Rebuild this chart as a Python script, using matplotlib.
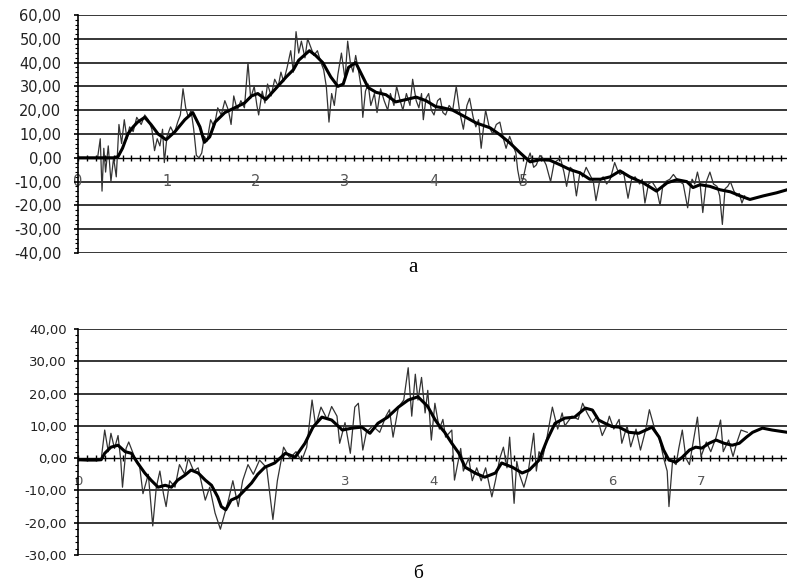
import numpy as np
from matplotlib import pyplot as plt
from matplotlib.ticker import FuncFormatter, MultipleLocator

# ---- panel a: raw signal (thin) and smoothed signal (thick) ----
x_top_raw = [0.00, 0.10, 0.22, 0.25, 0.27, 0.29, 0.31, 0.34, 0.37, 0.40,
             0.43, 0.46, 0.49, 0.52, 0.55, 0.58, 0.62, 0.66, 0.71, 0.75,
             0.79, 0.83, 0.86, 0.89, 0.92, 0.95, 0.97, 1.00, 1.04, 1.08,
             1.12, 1.15, 1.18, 1.21, 1.24, 1.27, 1.30, 1.33, 1.36, 1.39,
             1.42, 1.45, 1.49, 1.53, 1.57, 1.61, 1.65, 1.69, 1.72, 1.75,
             1.79, 1.83, 1.87, 1.91, 1.94, 1.98, 2.01, 2.03, 2.07, 2.10,
             2.13, 2.17, 2.21, 2.25, 2.28, 2.31, 2.35, 2.39, 2.42, 2.45,
             2.48, 2.51, 2.55, 2.58, 2.62, 2.65, 2.69, 2.73, 2.76, 2.79,
             2.82, 2.85, 2.88, 2.92, 2.96, 3.00, 3.03, 3.06, 3.09, 3.12,
             3.15, 3.18, 3.20, 3.23, 3.26, 3.29, 3.33, 3.36, 3.40, 3.44,
             3.48, 3.51, 3.55, 3.58, 3.62, 3.65, 3.69, 3.73, 3.76, 3.80,
             3.83, 3.86, 3.88, 3.91, 3.94, 3.97, 4.00, 4.04, 4.07, 4.10,
             4.13, 4.17, 4.21, 4.25, 4.29, 4.33, 4.37, 4.40, 4.44, 4.47,
             4.50, 4.53, 4.56, 4.58, 4.62, 4.66, 4.70, 4.74, 4.78, 4.81,
             4.85, 4.89, 4.92, 4.94, 4.97, 5.00, 5.04, 5.08, 5.12, 5.15,
             5.19, 5.22, 5.26, 5.31, 5.35, 5.39, 5.42, 5.46, 5.49, 5.53,
             5.56, 5.60, 5.64, 5.67, 5.71, 5.75, 5.79, 5.82, 5.86, 5.90,
             5.94, 5.98, 6.03, 6.06, 6.09, 6.13, 6.18, 6.22, 6.26, 6.31,
             6.34, 6.37, 6.41, 6.45, 6.50, 6.54, 6.57, 6.60, 6.65, 6.69,
             6.73, 6.76, 6.80, 6.85, 6.88, 6.90, 6.93, 6.96, 6.99, 7.02,
             7.06, 7.10, 7.14, 7.18, 7.21, 7.24, 7.27, 7.30, 7.33, 7.37,
             7.40, 7.43, 7.46, 7.49]
y_top_raw = [0, 0, 0, 8, -14, 4, -6, 5, -10, 0,
             -8, 14, 6, 16, 8, 13, 11, 17, 14, 18,
             16, 12, 3, 8, 5, 12, -2, 9, 13, 10,
             15, 18, 29, 21, 17, 20, 12, 1, 0, 2,
             9, 7, 16, 13, 21, 18, 24, 20, 14, 26,
             20, 24, 21, 40, 25, 30, 22, 18, 28, 23,
             31, 26, 33, 30, 36, 32, 38, 45, 36, 53,
             44, 49, 42, 50, 46, 43, 45, 40, 37, 30,
             15, 27, 22, 35, 44, 33, 49, 40, 36, 43,
             37, 30, 17, 28, 31, 22, 27, 19, 29, 24,
             20, 27, 22, 30, 24, 20, 27, 22, 33, 24,
             21, 27, 16, 25, 27, 20, 18, 24, 25, 19,
             18, 22, 20, 30, 19, 12, 22, 25, 17, 13,
             16, 4, 14, 20, 13, 10, 14, 15, 8, 4,
             9, 5, 2, -5, -11, -9, -2, 2, -4, -3,
             1, 0, -3, -10, -2, -1, 0, -6, -12, -4,
             -5, -16, -6, -8, -4, -7, -10, -18, -10, -8,
             -11, -9, -2, -5, -7, -6, -17, -9, -8, -11,
             -9, -19, -11, -10, -13, -20, -12, -10, -9, -7,
             -9, -10, -11, -21, -12, -9, -11, -6, -11, -23,
             -10, -6, -11, -12, -16, -28, -13, -12, -10, -14,
             -16, -15, -19, -16]

x_top_smooth = [0.00, 0.10, 0.20, 0.30, 0.40, 0.45, 0.50, 0.56, 0.62, 0.67,
                0.75, 0.82, 0.90, 0.99, 1.09, 1.20, 1.29, 1.37, 1.42, 1.48,
                1.54, 1.65, 1.76, 1.87, 1.95, 2.02, 2.11, 2.22, 2.34, 2.42,
                2.48, 2.60, 2.67, 2.75, 2.84, 2.92, 2.98, 3.04, 3.12, 3.20,
                3.26, 3.35, 3.46, 3.57, 3.69, 3.80, 3.91, 4.02, 4.10, 4.21,
                4.36, 4.47, 4.63, 4.74, 4.85, 4.97, 5.08, 5.19, 5.30, 5.42,
                5.53, 5.64, 5.75, 5.87, 5.98, 6.09, 6.20, 6.35, 6.50, 6.62,
                6.73, 6.84, 6.91, 6.99, 7.10, 7.21, 7.33, 7.44, 7.55, 7.70,
                7.85, 7.97]
y_top_smooth = [0, 0, 0, 0, 0, 0.5, 4, 10, 13, 15,
                17, 14, 10, 7.6, 11, 16, 19, 13, 6.5, 8.8,
                15, 19, 21, 23, 26, 27, 24.5, 29, 34, 37,
                41, 45, 43, 40, 34, 30, 31, 38, 40, 34,
                29.5, 27.5, 26.5, 23.5, 24.5, 25.5, 24, 21.5, 21, 20,
                17, 14.7, 12.6, 9.7, 6.3, 2, -1.7, -0.8, -1, -3,
                -5, -6.3, -9, -9, -8, -5.5, -8, -10.5, -14, -10.5,
                -9.2, -10, -12.5, -11.3, -12, -13.4, -14.3, -16, -17.5, -16,
                -14.7, -13.4]

# ---- panel b ----
x_bot_raw = [0.00, 0.10, 0.20, 0.26, 0.30, 0.34, 0.37, 0.41, 0.45, 0.48,
             0.50, 0.54, 0.57, 0.64, 0.69, 0.73, 0.79, 0.84, 0.88, 0.92,
             0.96, 0.99, 1.03, 1.09, 1.14, 1.20, 1.24, 1.30, 1.35, 1.43,
             1.48, 1.54, 1.60, 1.63, 1.69, 1.74, 1.80, 1.85, 1.91, 1.97,
             2.04, 2.12, 2.19, 2.24, 2.31, 2.38, 2.45, 2.51, 2.57, 2.63,
             2.67, 2.73, 2.80, 2.85, 2.91, 2.94, 3.00, 3.06, 3.11, 3.15,
             3.20, 3.24, 3.31, 3.39, 3.46, 3.50, 3.54, 3.60, 3.66, 3.71,
             3.75, 3.79, 3.82, 3.86, 3.90, 3.93, 3.97, 4.01, 4.06, 4.10,
             4.13, 4.20, 4.23, 4.30, 4.33, 4.39, 4.43, 4.48, 4.53, 4.58,
             4.65, 4.69, 4.74, 4.78, 4.82, 4.85, 4.90, 4.93, 4.96, 5.01,
             5.06, 5.12, 5.15, 5.18, 5.22, 5.27, 5.33, 5.39, 5.44, 5.47,
             5.55, 5.62, 5.67, 5.72, 5.78, 5.83, 5.89, 5.94, 5.97, 6.02,
             6.08, 6.11, 6.17, 6.21, 6.27, 6.32, 6.38, 6.42, 6.48, 6.53,
             6.58, 6.62, 6.64, 6.68, 6.72, 6.75, 6.79, 6.83, 6.87, 6.90,
             6.96, 7.00, 7.06, 7.11, 7.17, 7.22, 7.25, 7.31, 7.36, 7.40,
             7.45, 7.52]
y_bot_raw = [-0.6, -0.6, -0.6, -0.5, 8.7, 2, 7.7, 3, 7, -0.6,
             -9, 3, 5, 0, -2, -11, -5, -21, -9, -4,
             -11, -15, -7, -9, -2, -5, 0, -4, -3, -13,
             -9, -17, -22, -19, -13, -7, -15, -7, -2, -5,
             -0.6, -3, -19, -7, 3.4, 0, 2, -1, 3.4, 18,
             10, 15.8, 12, 16, 13, 4.6, 11, 1.5, 15.8, 17,
             2.5, 8, 10, 8, 13, 15, 6.5, 15.8, 18, 28,
             13, 26, 18, 25, 14, 21, 5.6, 17, 9, 12,
             6.5, 8.7, -6.8, 3, -4, 0, -7, -3, -7, -3,
             -12, -7, 0, 3.4, -3, 6.5, -14, -1, -5, -9,
             -4, 7.7, -4, 2, 0, 6.5, 15.8, 9, 14, 10,
             13, 12, 17, 14, 11, 13, 7, 10, 13, 9,
             12, 4.6, 10, 3.5, 9, 2.5, 9, 15, 9, 6.5,
             0, -4, -15, -1, -2, 3, 8.7, 0, -2, 3,
             12.7, 0.5, 5, 2, 6.5, 11.8, 2, 5.6, 0.5, 4.6,
             8.7, 8]

x_bot_smooth = [0.00, 0.10, 0.20, 0.26, 0.30, 0.37, 0.45, 0.53, 0.60, 0.67,
                0.75, 0.82, 0.90, 0.98, 1.05, 1.12, 1.20, 1.27, 1.35, 1.43,
                1.50, 1.57, 1.61, 1.66, 1.72, 1.80, 1.87, 1.95, 2.02, 2.10,
                2.21, 2.33, 2.44, 2.55, 2.64, 2.74, 2.85, 2.97, 3.08, 3.19,
                3.28, 3.37, 3.48, 3.60, 3.71, 3.82, 3.93, 4.01, 4.06, 4.12,
                4.20, 4.28, 4.35, 4.46, 4.57, 4.69, 4.76, 4.88, 4.99, 5.07,
                5.18, 5.27, 5.36, 5.47, 5.58, 5.70, 5.78, 5.85, 5.92, 6.00,
                6.08, 6.19, 6.30, 6.38, 6.45, 6.53, 6.58, 6.64, 6.72, 6.79,
                6.87, 6.94, 7.01, 7.09, 7.17, 7.26, 7.35, 7.43, 7.51, 7.58,
                7.69, 7.80, 7.97]
y_bot_smooth = [-0.5, -0.6, -0.6, -0.5, 1.5, 3.4, 4, 2, 1.5, -1.5,
                -4.6, -6.8, -9, -8.4, -9, -6.8, -5.3, -3.7, -4.6, -6.8,
                -8.4, -12, -15, -16, -13, -12, -10, -7.7, -5, -2.8,
                -1.5, 1.5, 0.3, 4.6, 9.6, 12.7, 11.8, 8.7, 9.3, 9.6,
                7.7, 10.8, 12.7, 15.8, 18, 19, 16, 12, 10, 8,
                4.6, 1.5, -2.8, -4.6, -5.9, -4.6, -1.5, -2.8, -4.6, -3.7,
                -0.6, 5.6, 10.8, 12.4, 12.7, 15.5, 14.9, 11.8, 10.8, 9.8,
                9.6, 8, 7.7, 8.7, 9.6, 6.5, 2.5, -0.6, -1.2, 0.3,
                2.5, 3.4, 3.1, 4.6, 5.6, 4.6, 4, 4.6, 6.5, 8,
                9.3, 8.7, 8]

top_xlabels = ['0', '1', '2', '3', '4', '5', '', '', '']
bot_xlabels = ['0', '', '', '3', '4', '', '6', '7', '8']


def comma_fmt(v, pos):
    return f'{v:.2f}'.replace('.', ',')


def style_axes(ax, ymin, ymax, xlabels, fs, ypad):
    ax.set_xlim(0, 8)
    ax.set_ylim(ymin, ymax)
    yt = np.arange(ymin, ymax + 1, 10)
    ax.set_yticks(yt)
    ax.yaxis.set_major_formatter(FuncFormatter(comma_fmt))
    ax.yaxis.set_minor_locator(MultipleLocator(2))
    for v in yt:
        if v != 0:
            ax.axhline(v, color='black', lw=1.1, zorder=1)
    for s in ['top', 'right']:
        ax.spines[s].set_visible(False)
    ax.spines['left'].set_linewidth(1.2)
    ax.spines['bottom'].set_position(('data', 0))
    ax.spines['bottom'].set_linestyle((0, (2, 1)))
    ax.spines['bottom'].set_linewidth(1.0)
    ax.set_xticks(range(9))
    ax.set_xticklabels(xlabels)
    ax.xaxis.set_minor_locator(MultipleLocator(0.1))
    ax.tick_params(axis='x', which='both', direction='inout', length=4, width=1,
                   pad=10, labelsize=fs, labelcolor='#555555')
    ax.tick_params(axis='y', which='major', direction='out', length=3, width=1.2,
                   pad=ypad, labelsize=fs, labelcolor='#222222')
    ax.tick_params(axis='y', which='minor', direction='out', length=2.5, width=0.8)


fig = plt.figure(figsize=(7.87, 5.85), dpi=100)
plt.rcParams['font.family'] = ['DejaVu Sans']

ax1 = fig.add_axes([78 / 787, 1 - 253 / 585, 712 / 787, 238 / 585])
style_axes(ax1, -40, 60, top_xlabels, 10.5, 9)
ax1.plot(x_top_raw, y_top_raw, color='#333333', lw=0.9, zorder=3)
ax1.plot(x_top_smooth, y_top_smooth, color='black', lw=2.2, zorder=4)

ax2 = fig.add_axes([78 / 787, 1 - 555 / 585, 712 / 787, 226 / 585])
style_axes(ax2, -30, 40, bot_xlabels, 9.5, 5)
ax2.plot(x_bot_raw, y_bot_raw, color='#333333', lw=0.9, zorder=3)
ax2.plot(x_bot_smooth, y_bot_smooth, color='black', lw=2.2, zorder=4)

fig.text(413 / 787, 1 - 268 / 585, 'а', ha='center', va='center',
         fontfamily='Liberation Serif', fontsize=15)
fig.text(418 / 787, 1 - 573 / 585, 'б', ha='center', va='center',
         fontfamily='Liberation Serif', fontsize=14)

fig.savefig('out.png', dpi=100)
